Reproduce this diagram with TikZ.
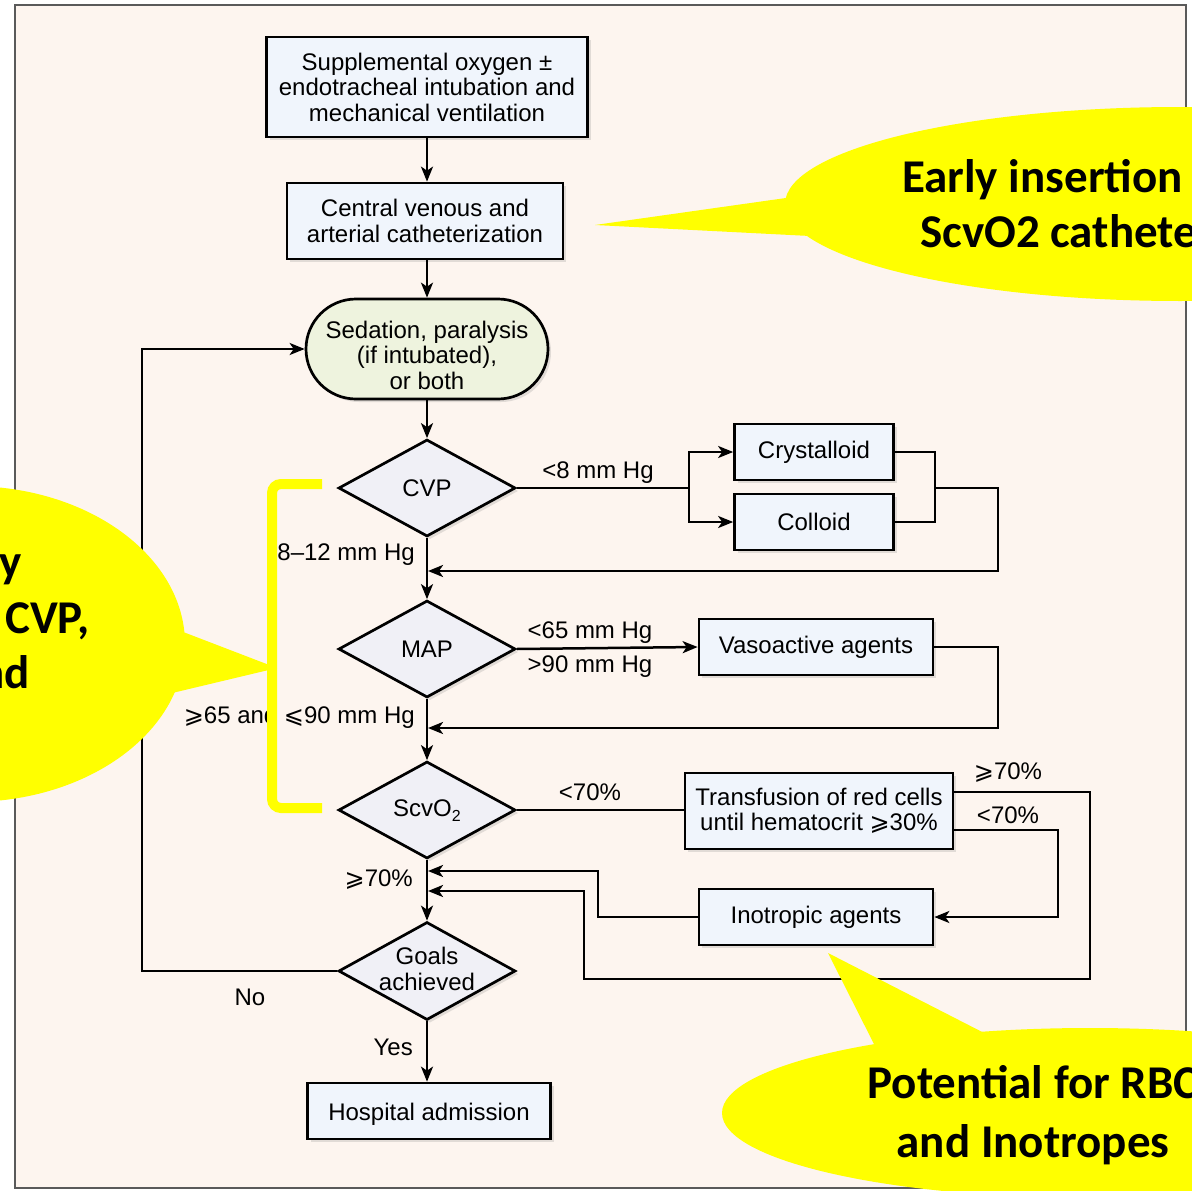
\documentclass[tikz,border=0pt]{standalone}
\usepackage{fontspec}
\setmainfont{Liberation Sans}
\newfontfamily\callfont{Carlito}
\newfontfamily\symfont{DejaVu Sans}
\usetikzlibrary{shapes.geometric,arrows.meta,shadows}
\definecolor{bgc}{RGB}{253,245,239}
\definecolor{boxc}{RGB}{240,245,252}
\definecolor{sedc}{RGB}{238,243,222}
\definecolor{diamc}{RGB}{240,240,246}
\definecolor{yel}{RGB}{255,255,0}
\definecolor{framec}{RGB}{90,90,90}
\newcommand\flowsz{\fontsize{24}{25.5}\selectfont}
\newcommand\gesym{{\symfont ⩾}}
\newcommand\lesym{{\symfont ⩽}}
\newcommand\subtwo{\raisebox{-5pt}{\fontsize{16}{16}\selectfont 2}}
\begin{document}
\begin{tikzpicture}[x=1pt,y=-1pt,
  box/.style={draw=black,line width=2.7pt,fill=boxc,align=center,inner sep=0pt,font=\flowsz,
    drop shadow={shadow xshift=3pt,shadow yshift=-3pt,opacity=0.22}},
  diam/.style={diamond,draw=black,line width=2.7pt,fill=diamc,minimum width=177pt,minimum height=97pt,inner sep=0pt,
    drop shadow={shadow xshift=3pt,shadow yshift=-3pt,opacity=0.22}},
  txt/.style={font=\flowsz,align=center,inner sep=0pt},
  lbl/.style={font=\flowsz,inner sep=1pt},
  conn/.style={line width=2.5pt},
  arr/.style={conn,-{Stealth[length=15pt,width=12pt,inset=4pt]}},
  callout/.style={font=\callfont\bfseries\fontsize{47}{56}\selectfont,inner sep=0pt}
]
\useasboundingbox (0,0) rectangle (1192,1191);
\clip (0,0) rectangle (1192,1191);
\fill[white] (0,0) rectangle (1192,1191);
\filldraw[fill=bgc,draw=framec,line width=2pt] (15,5) rectangle (1186,1188);

% main column
\node[box,minimum width=321pt,minimum height=100pt] (b1) at (427,87) {Supplemental oxygen ±\\endotracheal intubation and\\mechanical ventilation};
\node[box,minimum width=276pt,minimum height=76pt] (b2) at (425,221) {Central venous and\\arterial catheterization};
\node[box,fill=sedc,rounded corners=50pt,minimum width=242pt,minimum height=100pt] (sed) at (427,349) {};
\node[txt] (sedT) at (427,355) {Sedation, paralysis\\(if intubated),\\or both};
\node[diam] (cvp) at (427,488) {};
\node[txt] (cvpT) at (cvp) {CVP};
\node[diam] (map) at (427,649) {};
\node[txt] (mapT) at (map) {MAP};
\node[diam] (scv) at (427,810) {};
\node[txt] (scvT) at (427,811) {ScvO\subtwo};
\node[diam,minimum height=98pt] (goals) at (427,971) {};
\node[txt] (goalsT) at (427,969) {Goals\\achieved};
\node[box,minimum width=243pt,minimum height=56pt] (hosp) at (429,1111) {};
\node[txt] (hospT) at (429,1114) {Hospital admission};

% right column
\node[box,minimum width=159pt,minimum height=56pt] (cry) at (814,452) {Crystalloid};
\node[box,minimum width=159pt,minimum height=56pt] (col) at (814,522) {Colloid};
\node[box,minimum width=234pt,minimum height=56pt] (vaso) at (816,647) {Vasoactive agents};
\node[box,minimum width=268pt,minimum height=76pt] (trans) at (819,811) {Transfusion of red cells\\until hematocrit \gesym30\%};
\node[box,minimum width=234pt,minimum height=56pt] (ino) at (816,917) {Inotropic agents};

% vertical flow
\draw[arr] (b1.south -| cvp) -- (b2.north -| cvp);
\draw[arr] (b2.south -| cvp) -- (sed);
\draw[arr] (sed) -- (cvp);
\draw[arr] (cvp) -- (map);
\draw[arr] (map) -- (scv);
\draw[arr] (scv) -- (goals);
\draw[arr] (goals.south) -- (hosp.north -| goals);

% CVP branch
\coordinate (j1) at (689,488);
\coordinate (j2) at (935,488);
\coordinate (r1) at (998,571);
\coordinate (m1) at (428,571);
\draw[conn] (cvp.east) -- (j1);
\draw[arr] (j1) |- (cry.west);
\draw[arr] (j1) |- (col.west);
\draw[conn] (cry.east) -| (j2);
\draw[conn] (col.east) -| (j2);
\draw[arr] (j2) -| (r1) -- (m1);

% MAP branch
\coordinate (r2) at (998,728);
\coordinate (m2) at (428,728);
\draw[arr] (map.east) -- (vaso.west);
\draw[arr] (vaso.east) -| (r2) -- (m2);

% ScvO2 branch
\coordinate (ta) at (953,792);
\coordinate (tb) at (953,830);
\coordinate (c1) at (1090,979);
\coordinate (c2) at (584,891);
\coordinate (m3) at (428,891);
\coordinate (c3) at (1058,917);
\coordinate (c4) at (598,871);
\coordinate (m4) at (428,871);
\draw[conn] (scv.east) -- (scv.east -| trans.west);
\draw[arr] (ta) -| (c1) -| (c2) -- (m3);
\draw[arr] (tb) -| (c3) -- (ino.east);
\draw[arr] (ino.west) -| (c4) -- (m4);

% No loop
\coordinate (c5) at (142,349);
\draw[arr] (goals.west) -| (c5) -- (sed.west);

% labels
\node[lbl,anchor=east] (l1) at (416,555) {8–12 mm Hg};
\node[lbl] (l2) at (598,473) {<8 mm Hg};
\node[lbl] (l3) at (590,633) {<65 mm Hg};
\node[lbl] (l4) at (590,667) {>90 mm Hg};
\node[lbl,anchor=east] (l5) at (416,717) {\gesym65 and \lesym90 mm Hg};
\node[lbl] (l6) at (590,792) {<70\%};
\node[lbl] (l7) at (1008,773) {\gesym70\%};
\node[lbl] (l8) at (1008,815) {<70\%};
\node[lbl,anchor=east] (l9) at (414,880) {\gesym70\%};
\node[lbl] (l10) at (250,997) {No};
\node[lbl,anchor=east] (l11) at (414,1047) {Yes};

% yellow bracket
\draw[yel,line width=10pt,rounded corners=9pt] (322,484) -- (272,484) -- (272,808) -- (322,808);

% callouts
\fill[yel] (1180,204) ellipse [x radius=395pt, y radius=97pt];
\fill[yel] (595,225) -- (800,196) -- (810,236) -- cycle;
\fill[yel] (-30,644) ellipse [x radius=215pt, y radius=158pt];
\fill[yel] (178,630) -- (277,668) -- (168,694) -- cycle;
\fill[yel] (1090,1113) ellipse [x radius=368pt, y radius=85pt];
\fill[yel] (828,953) -- (990,1036) -- (877,1050) -- cycle;

\node[callout,anchor=base west] (ct1) at (902,192) {Early insertion};
\node[callout,anchor=base west] (ct2) at (920,247) {ScvO2 cathete};
\node[callout,anchor=base east] (cl1) at (22,577) {y};
\node[callout,anchor=base east] (cl2) at (90,633) {CVP,};
\node[callout,anchor=base east] (cl3) at (30,688) {nd};
\node[callout,anchor=base] (cb1) at (1033,1098) {Potential for RBC};
\node[callout,anchor=base] (cb2) at (1033,1157) {and Inotropes};
\end{tikzpicture}
\end{document}
